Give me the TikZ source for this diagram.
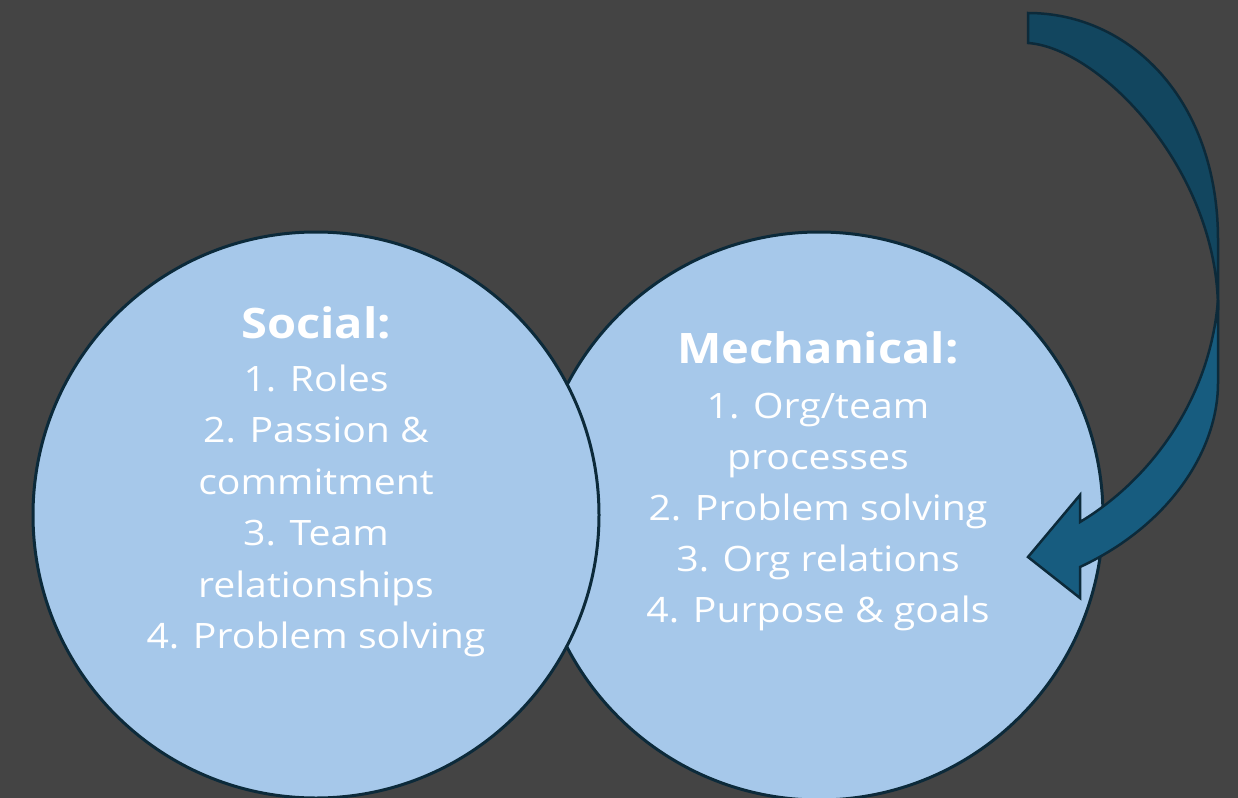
\documentclass[tikz,border=0pt]{standalone}
\usepackage{fontspec}
\setmainfont{Open Sans}
\newfontfamily\widesans{Open Sans}[FakeStretch=1.12]
\usepackage{xcolor}
\usepackage{tikz}
\definecolor{bggray}{HTML}{444444}
\definecolor{paleblue}{HTML}{A6C8EA}
\definecolor{edgeblue}{HTML}{0C2A3A}
\definecolor{backblue}{HTML}{12465F}
\definecolor{frontblue}{HTML}{175C7F}
\tikzset{
	topic/.style={circle, draw=edgeblue, line width=1.5pt, fill=paleblue, minimum size=#1, inner sep=0pt},
	item/.style={text=white, anchor=base, font=\widesans\fontsize{17.5}{21}\selectfont},
	heading/.style={text=white, anchor=base, font=\widesans\fontsize{21}{25}\selectfont\bfseries},
	band/.style={draw=edgeblue, line width=1.25pt, line join=miter}
}

\begin{document}
\begin{tikzpicture}[x=0.5pt, y=-0.5pt]
	\fill[bggray] (0,0) rectangle (1238,798);
	\clip (0,0) rectangle (1238,798);
	\node[topic=284pt](mech) at (819,516){};
	\node[topic=283pt](social) at (316,515){};
	\node[heading](socialhead) at (316,338){Social:};
	\foreach \lab [count=\c, evaluate=\c as \y using {391 + 51.5*(\c-1)}] in {1. Roles, 2. Passion \&, commitment, 3. Team, relationships, 4. Problem solving}
	{
			\node[item](s\c) at (316,\y){\lab};
	}
	\node[heading](mechhead) at (818,363){Mechanical:};
	\foreach \lab [count=\c, evaluate=\c as \y using {418 + 51.2*(\c-1)}] in {1. Org/team, processes, 2. Problem solving, 3. Org relations, 4. Purpose \& goals}
	{
			\node[item](m\c) at (818,\y){\lab};
	}
	\draw[band, fill=backblue](1028,13) .. controls (1130,13) and (1218,100) .. (1218,240) -- (1218,310) .. controls (1218,170) and (1100,48) .. (1028,43) -- cycle;
	\draw[band, fill=frontblue](1218,300) -- (1218,383) .. controls (1218,450) and (1170,525) .. (1080,567) -- (1080,598) -- (1028,557) -- (1080,495) -- (1080,522) .. controls (1150,480) and (1210,400) .. (1218,300) -- cycle;
\end{tikzpicture}
\end{document}
